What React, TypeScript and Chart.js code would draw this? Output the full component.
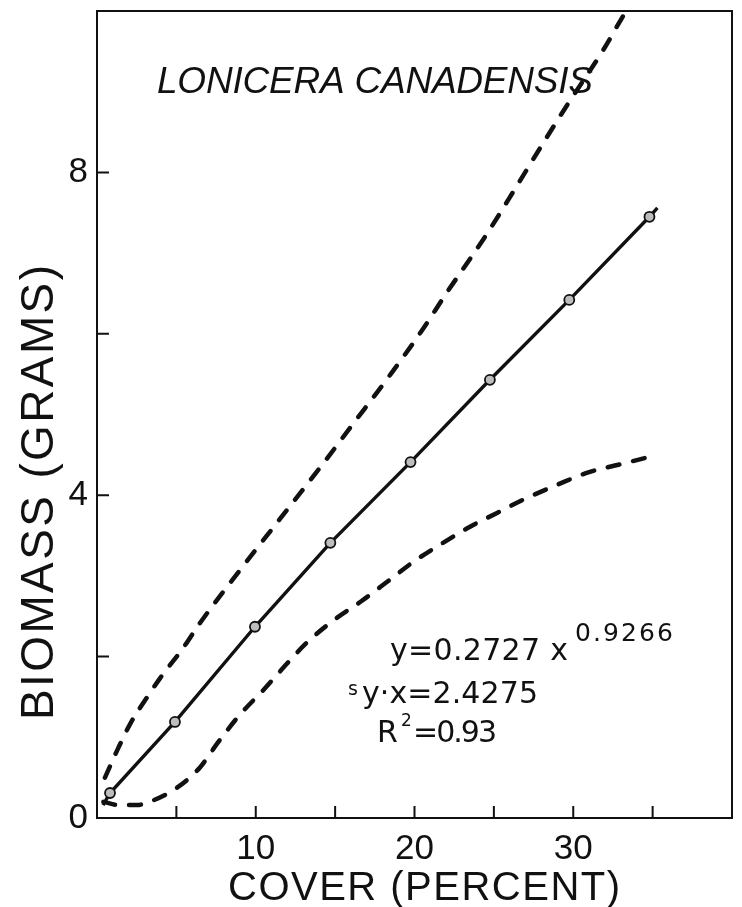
import React, { useEffect, useRef } from 'react';
import { Chart, registerables } from 'chart.js';

Chart.register(...registerables);

// ---- axis ranges & ticks ----
const X_MIN = 0;
const X_MAX = 40;
const Y_MIN = 0;
const Y_MAX = 10;
const X_STEP = 5;
const Y_STEP = 2;
const xLabeledTicks = [10, 20, 30];
const yLabeledTicks = [0, 4, 8];

// ---- fitted power curve (solid) with observed markers ----
const fitCover = [0.38, 0.82, 4.91, 9.95, 14.7, 19.75, 24.75, 29.75, 34.8, 35.3];
const fitBiomass = [0.16, 0.31, 1.19, 2.37, 3.41, 4.41, 5.43, 6.42, 7.45, 7.56];
const fitMarked = [false, true, true, true, true, true, true, true, true, false];

// ---- upper confidence band (dashed) ----
const upperCover = [0.5, 1.3, 2.1, 3.1, 4.0, 5.4, 6.5, 9.0, 11.5, 14.2, 16.0, 18.5, 20.5, 22.0, 24.6, 26.5, 28.0, 29.6, 31.9, 33.3, 34.0];
const upperBiomass = [0.5, 0.85, 1.17, 1.48, 1.74, 2.1, 2.42, 3.07, 3.7, 4.38, 4.85, 5.5, 6.05, 6.5, 7.25, 7.85, 8.33, 8.83, 9.52, 9.99, 10.2];

// ---- lower confidence band (dashed) ----
const lowerCover = [0.4, 1.4, 2.5, 3.3, 5.0, 6.5, 7.6, 9.0, 10.5, 12.0, 13.2, 14.9, 16.6, 18.3, 19.9, 21.8, 23.5, 25.2, 26.8, 29.0, 30.9, 32.9, 35.3];
const lowerBiomass = [0.2, 0.16, 0.16, 0.2, 0.37, 0.63, 0.93, 1.28, 1.59, 1.92, 2.17, 2.45, 2.68, 2.93, 3.17, 3.41, 3.61, 3.78, 3.94, 4.13, 4.28, 4.38, 4.5];

// ---- texts ----
const speciesName = 'LONICERA CANADENSIS';
const xTitle = 'COVER (PERCENT)';
const yTitle = 'BIOMASS (GRAMS)';
const eqMain = 'y=0.2727 x';
const eqExp = '0.9266';
const seS = 's';
const seRest = 'y·x=2.4275';
const r2R = 'R';
const r2Sup = '2';
const r2Rest = '=0.93';

const INK = '#111111';
const FAMILY = '"Liberation Sans", Arial, Helvetica, sans-serif';
const EQ_FAMILY = '"DejaVu Sans", "Liberation Sans", sans-serif';

function pts(xs: number[], ys: number[]) {
  return xs.map((x, i) => ({ x, y: ys[i] }));
}

function drawSpaced(ctx: CanvasRenderingContext2D, text: string, x: number, y: number, font: string, width?: number) {
  ctx.font = font;
  (ctx as any).letterSpacing = '0px';
  let ls = 0;
  if (width) {
    const w = ctx.measureText(text).width;
    ls = (width - w) / Math.max(1, text.length - 1);
  }
  (ctx as any).letterSpacing = ls + 'px';
  ctx.fillText(text, x, y);
  (ctx as any).letterSpacing = '0px';
}

const framePlugin = {
  id: 'frameAndText',
  afterDraw(chart: any) {
    const { ctx, chartArea } = chart;
    const { left, right, top, bottom } = chartArea;
    const xs = chart.scales.x;
    const ys = chart.scales.y;
    ctx.save();
    ctx.strokeStyle = INK;
    ctx.fillStyle = INK;
    ctx.lineWidth = 2;
    ctx.strokeRect(left, top, right - left, bottom - top);
    // inward ticks
    const TL = 12;
    ctx.beginPath();
    for (let v = X_MIN + X_STEP; v < X_MAX; v += X_STEP) {
      const px = xs.getPixelForValue(v);
      ctx.moveTo(px, bottom);
      ctx.lineTo(px, bottom - TL);
    }
    for (let v = Y_MIN + Y_STEP; v < Y_MAX; v += Y_STEP) {
      const py = ys.getPixelForValue(v);
      ctx.moveTo(left, py);
      ctx.lineTo(left + TL, py);
    }
    ctx.stroke();

    ctx.textAlign = 'left';
    ctx.textBaseline = 'alphabetic';
    // species name
    drawSpaced(ctx, speciesName, 157, 93, `italic 37px ${FAMILY}`, 436);
    // equation block
    drawSpaced(ctx, eqMain, 390, 660, `30px ${EQ_FAMILY}`, 178);
    drawSpaced(ctx, eqExp, 575, 641, `25px ${EQ_FAMILY}`, 98);
    drawSpaced(ctx, seS, 348, 695, `19px ${EQ_FAMILY}`);
    drawSpaced(ctx, seRest, 362, 703, `30px ${EQ_FAMILY}`, 176);
    drawSpaced(ctx, r2R, 377, 742, `30px ${EQ_FAMILY}`);
    drawSpaced(ctx, r2Sup, 401, 726, `17px ${EQ_FAMILY}`);
    drawSpaced(ctx, r2Rest, 413, 742, `30px ${EQ_FAMILY}`, 84);
    // axis titles
    drawSpaced(ctx, xTitle, 228, 900, `40px ${FAMILY}`, 392);
    ctx.save();
    ctx.translate(53, 720);
    ctx.rotate(-Math.PI / 2);
    drawSpaced(ctx, yTitle, 0, 0, `46px ${FAMILY}`, 455);
    ctx.restore();
    ctx.restore();
  },
};

export default function App() {
  const ref = useRef<HTMLCanvasElement | null>(null);
  useEffect(() => {
    if (!ref.current) return;
    const chart = new Chart(ref.current, {
      type: 'line',
      data: {
        datasets: [
          {
            label: 'upper',
            data: pts(upperCover, upperBiomass),
            borderColor: INK,
            borderWidth: 4.5,
            borderDash: [12, 14],
            borderCapStyle: 'round',
            pointRadius: 0,
            cubicInterpolationMode: 'monotone',
            fill: false,
          },
          {
            label: 'lower',
            data: pts(lowerCover, lowerBiomass),
            borderColor: INK,
            borderWidth: 4.5,
            borderDash: [12, 14],
            borderCapStyle: 'round',
            pointRadius: 0,
            cubicInterpolationMode: 'monotone',
            fill: false,
          },
          {
            label: 'fit',
            data: pts(fitCover, fitBiomass),
            borderColor: INK,
            borderWidth: 3.4,
            tension: 0,
            pointRadius: fitMarked.map((m) => (m ? 5 : 0)),
            pointBackgroundColor: '#bdbdbd',
            pointBorderColor: INK,
            pointBorderWidth: 1.8,
            fill: false,
          },
        ] as any,
      },
      options: {
        animation: false,
        responsive: false,
        devicePixelRatio: 1,
        events: [],
        layout: { padding: { top: 11, right: 10, left: 0, bottom: 0 } },
        plugins: { legend: { display: false }, tooltip: { enabled: false }, title: { display: false } },
        scales: {
          x: {
            type: 'linear',
            min: X_MIN,
            max: X_MAX,
            grid: { display: false, drawTicks: false },
            border: { display: false },
            ticks: {
              stepSize: X_STEP,
              autoSkip: false,
              maxRotation: 0,
              padding: 10,
              color: INK,
              font: { family: FAMILY, size: 35 },
              callback: (v: any) => (xLabeledTicks.includes(Number(v)) ? String(v) : ''),
            },
            afterFit: (s: any) => {
              s.height = 89;
              s.paddingLeft = 0;
              s.paddingRight = 0;
            },
          },
          y: {
            type: 'linear',
            min: Y_MIN,
            max: Y_MAX,
            grid: { display: false, drawTicks: false },
            border: { display: false },
            ticks: {
              stepSize: Y_STEP,
              autoSkip: false,
              padding: 9,
              color: INK,
              font: { family: FAMILY, size: 35 },
              callback: (v: any) => (yLabeledTicks.includes(Number(v)) ? String(v) : ''),
            },
            afterFit: (s: any) => {
              s.width = 97;
              s.paddingTop = 0;
              s.paddingBottom = 0;
            },
          },
        },
      } as any,
      plugins: [framePlugin],
    });
    return () => chart.destroy();
  }, []);
  return (
    <canvas
      ref={ref}
      width={742}
      height={907}
      style={{ position: 'fixed', left: 0, top: 0, width: 742, height: 907, background: '#fff' }}
    />
  );
}
